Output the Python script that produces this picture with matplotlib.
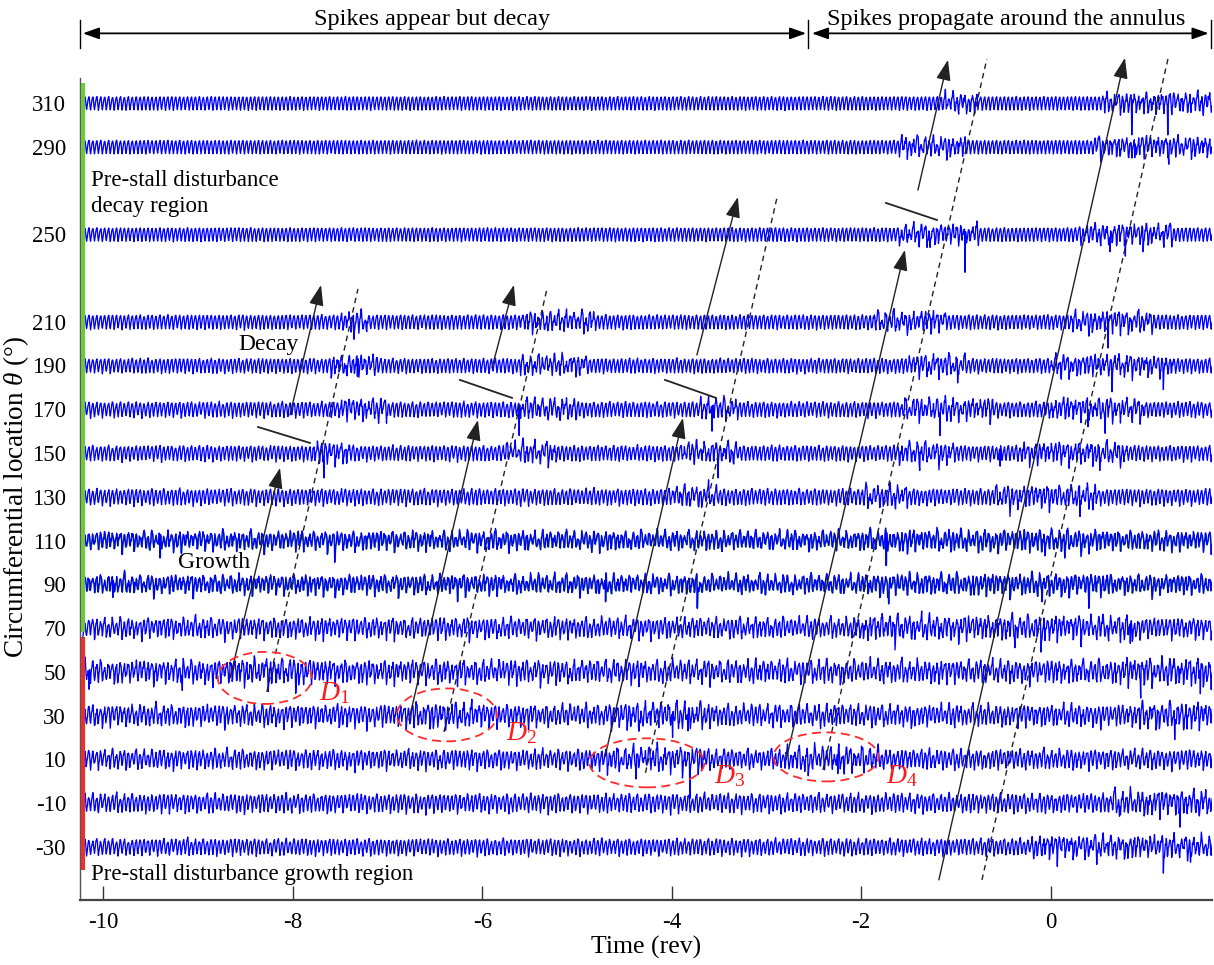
import numpy as np
import matplotlib
matplotlib.use("Agg")
import matplotlib.pyplot as plt
from matplotlib.patches import Ellipse
from matplotlib import transforms

plt.rcParams['font.family'] = ['Liberation Serif', 'DejaVu Serif']
plt.rcParams['mathtext.fontset'] = 'custom'
plt.rcParams['mathtext.rm'] = 'Liberation Serif'
plt.rcParams['mathtext.it'] = 'Liberation Serif:italic'
plt.rcParams['axes.unicode_minus'] = False

# ---- sensor traces ----
sensor_angles = [310, 290, 250, 210, 190, 170, 150, 130, 110, 90, 70, 50, 30, 10, -10, -30]
trace_amplitude = [3.2, 3.2, 3.2, 3.3, 3.3, 3.4, 3.4, 3.5, 3.3, 3.3, 3.8, 4.1, 4.0, 3.8, 3.8, 3.5]
trace_roughness = [0.08, 0.08, 0.1, 0.15, 0.2, 0.25, 0.25, 0.3, 0.85, 0.85, 0.65, 0.75, 0.65, 0.55, 0.45, 0.35]
disturbed_windows = [
    [(-1.15, -0.75), (0.55, 1.75)],
    [(-1.6, -0.9), (0.45, 1.75)],
    [(-1.6, -0.75), (0.3, 1.3)],
    [(-7.5, -7.2), (-5.6, -4.8), (-1.9, -1.1), (0.2, 1.1)],
    [(-7.6, -7.1), (-5.6, -4.9), (-1.5, -0.9), (0.0, 1.3)],
    [(-7.5, -7.0), (-5.6, -5.0), (-3.7, -3.3), (-1.6, -0.6), (0.0, 1.0)],
    [(-7.8, -7.4), (-5.8, -5.2), (-3.9, -3.3), (-1.6, -1.0), (-0.3, 0.8)],
    [(-4.0, -3.5), (-2.0, -1.5), (-0.6, 0.5)],
    [(-2.0, 0.6)],
    [(-2.0, 0.6)],
    [(-2.0, 0.9)],
    [(-8.7, -7.8), (0.8, 1.75)],
    [(-6.8, -6.0), (-4.6, -3.6), (0.9, 1.75)],
    [(-4.7, -3.6), (-2.8, -1.8)],
    [(0.6, 1.75)],
    [(-0.2, 1.75)],
]
spike_times = [
    [0.86, 1.24],
    [0.89, 1.251],
    [-1.274, -0.904, 0.63, 0.79, 0.98],
    [-7.355, 0.61, 0.82],
    [-7.32, -0.98, 0.65, 1.19],
    [-5.613, -3.575, -1.168, 0.395, 0.575],
    [-7.672, -3.511, -1.379, -0.53, 0.52],
    [-0.43, 0.31],
    [-9.40, -7.556, -1.738, -0.06, 0.15],
    [-9.9, -6.26, -4.70, -3.73, -1.71, -0.09, 0.406],
    [-1.64, -0.376, -0.10, 0.84],
    [-10.15, -9.17, -8.26, -7.94, 0.95, 1.58],
    [-4.35, -3.99, -3.83, -2.43, 1.31],
    [-4.378, -3.808, -2.561, -2.244],
    [0.73, 1.37],
    [0.07, 0.49, 1.19, 1.48],
]
spike_depths = [
    [14.6, 14.6],
    [5.0, 8.0],
    [6.0, 17.4, 8.0, 10.0, 8.0],
    [8.0, 12.0, 6.0],
    [5.0, 8.0, 12.0, 11.0],
    [12.0, 10.0, 12.0, 8.0, 11.0],
    [11.4, 11.4, 8.0, 6.0, 8.0],
    [9.0, 9.0],
    [8.0, 10.0, 11.5, 7.0, 8.0],
    [6.0, 8.0, 8.0, 11.0, 9.0, 8.0, 11.0],
    [10.0, 9.0, 11.0, 7.0],
    [8.0, 8.5, 9.0, 6.0, 12.0, 10.0],
    [6.0, 10.0, 7.0, 6.0, 11.0],
    [9.0, 18.0, 7.5, 6.5],
    [6.0, 11.0],
    [9.0, 8.0, 12.0, 7.0],
]
green_traces = [110, 90]

# blade-passage pressure shape and passage-to-passage variation
blades_per_rev = 24
blade_profile = [-1.0, -0.5, 0.0, 0.45, 0.75, 0.85, 0.35, -0.5]
passage_gain = [1.0, 0.62, 1.25, 0.85, 1.4, 0.7, 1.1, 0.55, 1.3, 0.95, 0.75, 1.35, 0.6, 1.15,
                0.9, 1.45, 0.68, 1.05, 0.8, 1.28, 0.58, 1.2, 0.88, 1.38, 0.72, 1.02, 0.66, 1.32, 0.92]
passage_offset = [0.0, 0.3, -0.2, 0.45, -0.4, 0.1, 0.35, -0.3, -0.05, 0.5, -0.45, 0.2, -0.15,
                  0.4, -0.35, 0.05, 0.25, -0.5, 0.15, -0.25, 0.42, -0.1, 0.3]
sample_kink = [0.0, 0.6, -0.4, 0.2, -0.8, 0.5, 0.1, -0.3, 0.9, -0.6, 0.3, -0.1, 0.7, -0.9, 0.4,
               -0.2, 0.8, -0.5, 0.0, 0.6, -0.7, 0.2, -0.4, 1.0, -0.3, 0.5, -0.8, 0.1, 0.3, -0.6, 0.7]
t_start, t_end = -10.22, 1.75

# ---- annotations (rev, degree) ----
growth_arrows = [((-8.663, 47.2), (-8.136, 143.2)), ((-6.774, 28.0), (-6.046, 165.1)),
                 ((-4.705, 11.1), (-3.881, 166.0)), ((-2.793, 9.7), (-1.538, 242.8)),
                 ((-1.179, -45.1), (0.786, 330.6))]
decay_arrows = [((-8.031, 167.4), (-7.703, 226.8)), ((-5.898, 188.9), (-5.666, 226.8)),
                ((-3.734, 194.8), (-3.301, 267.0)), ((-1.400, 270.2), (-1.083, 329.7))]
dashed_paths = [((-8.275, 40.8), (-7.313, 225.0)), ((-6.405, 22.5), (-5.317, 225.0)),
                ((-4.277, 3.8), (-2.889, 266.6)), ((-2.403, 5.1), (-0.672, 330.1)),
                ((-0.724, -45.1), (1.240, 330.1))]
decay_marks = [((-8.369, 161.9), (-7.820, 154.6)), ((-6.236, 183.4), (-5.687, 175.2)),
               ((-4.071, 183.4), (-3.533, 175.2)), ((-1.738, 264.3), (-1.199, 256.5))]
disturbance_centers = [(-8.296, 47.2), (-6.374, 30.3), (-4.262, 8.4), (-2.371, 11.1)]
disturbance_widths = [0.993, 1.056, 1.214, 1.109]
disturbance_heights = [23.8, 24.2, 22.4, 22.4]
disturbance_labels = [r'$D_1$', r'$D_2$', r'$D_3$', r'$D_4$']
disturbance_label_pos = [(-7.724, 37.2), (-5.749, 18.9), (-3.554, -0.8), (-1.738, -0.8)]
phase_split = -2.56
x_ticks = [-10, -8, -6, -4, -2, 0]

fig = plt.figure(figsize=(12.14, 9.65), dpi=100)
ax = fig.add_axes([80 / 1214, 65 / 965, 1132 / 1214, 822 / 965])
ax.set_xlim(-10.248, 1.705)
ax.set_ylim(-54.3, 321.4)

spp = len(blade_profile)
n_pass = int((t_end - t_start) * blades_per_rev) + 1
n = n_pass * spp
t = t_start + np.arange(n) / (blades_per_rev * spp)
k = np.arange(n) // spp
j = np.arange(n) % spp
prof = np.array(blade_profile)[j]
gain_arr = np.array(passage_gain)
off_arr = np.array(passage_offset)
kink_arr = np.array(sample_kink)

for i, ang in enumerate(sensor_angles):
    rough = np.full(n, trace_roughness[i])
    boost = np.ones(n)
    for a, b in disturbed_windows[i]:
        m = (t >= a) & (t <= b)
        rough[m] = 0.9
        boost[m] = 1.1
    g = gain_arr[(k + 7 * i) % len(gain_arr)]
    o = off_arr[(k + 5 * i) % len(off_arr)]
    kk = kink_arr[(k * spp + 3 * j + 11 * i) % len(kink_arr)]
    y = trace_amplitude[i] * boost * ((1 + rough * (g - 1)) * prof + rough * (o + 0.45 * kk))
    for ts, d in zip(spike_times[i], spike_depths[i]):
        idx = int(np.argmin(np.abs(t - ts)))
        y[idx] = -d
    if ang in green_traces:
        ax.plot(t + 0.004, ang + 0.92 * y - 0.4, color='#2f8f2f', lw=0.9, zorder=2)
    ax.plot(t, ang + y, color='#0000ff', lw=0.95, zorder=3)

# region bars along the left axis
bar_tr = transforms.blended_transform_factory(ax.transAxes, ax.transData)
ax.plot([0.0025, 0.0025], [319.0, 68.2], color='#6cc83c', lw=3, transform=bar_tr,
        solid_capstyle='butt', clip_on=False, zorder=5)
ax.plot([0.0025, 0.0025], [66.0, -40.5], color='#e8312f', lw=3, transform=bar_tr,
        solid_capstyle='butt', clip_on=False, zorder=5)

arrow_kw = dict(arrowstyle='-|>,head_length=0.9,head_width=0.32', color='#222222', lw=1.0,
                shrinkA=0, shrinkB=0, mutation_scale=14)
for (p0, p1) in growth_arrows + decay_arrows:
    ax.annotate('', xy=p1, xytext=p0, arrowprops=arrow_kw, annotation_clip=False, zorder=6)
for (p0, p1) in dashed_paths:
    ax.plot([p0[0], p1[0]], [p0[1], p1[1]], color='#222222', lw=1.0, ls=(0, (4, 3)),
            clip_on=False, zorder=6)
for (p0, p1) in decay_marks:
    ax.plot([p0[0], p1[0]], [p0[1], p1[1]], color='#222222', lw=1.3, zorder=6)
for c, w, h, lab, pos in zip(disturbance_centers, disturbance_widths, disturbance_heights,
                             disturbance_labels, disturbance_label_pos):
    ax.add_patch(Ellipse(c, w, h, fill=False, edgecolor='#ff2a2a', lw=1.3,
                         ls=(0, (5, 3)), zorder=7))
    ax.text(pos[0], pos[1], lab, color='#ff1a1a', fontsize=20, ha='left', va='baseline', zorder=8)

ax.text(-8.258, 199.4, 'Decay', fontsize=17, ha='center', va='center', zorder=8)
ax.text(-8.834, 99.8, 'Growth', fontsize=17, ha='center', va='center', zorder=8)
ax.text(-10.133, 268.5, 'Pre-stall disturbance\ndecay region', fontsize=16.5, ha='left',
        va='center', linespacing=1.3, zorder=8)
ax.text(-10.133, -42.5, 'Pre-stall disturbance growth region', fontsize=16.5, ha='left',
        va='center', zorder=8)

# phase brackets above the plot
br_y, tick_lo, tick_hi, txt_y = 341.8, 335.1, 347.9, 348.2
x_left, x_right = -10.248, 1.69
br_kw = dict(arrowstyle='<|-|>,head_length=0.7,head_width=0.25', color='black', lw=1.3,
             shrinkA=0, shrinkB=0, mutation_scale=14)
ax.annotate('', xy=(phase_split - 0.02, br_y), xytext=(x_left + 0.03, br_y), arrowprops=br_kw,
            annotation_clip=False)
ax.annotate('', xy=(x_right - 0.02, br_y), xytext=(phase_split + 0.04, br_y), arrowprops=br_kw,
            annotation_clip=False)
for xv in [x_left, phase_split, x_right]:
    ax.plot([xv, xv], [tick_lo, tick_hi], color='black', lw=1.0, clip_on=False)
ax.text(-6.53, txt_y, 'Spikes appear but decay', fontsize=17.5, ha='center', va='center',
        clip_on=False)
ax.text(-0.47, txt_y, 'Spikes propagate around the annulus', fontsize=17.5, ha='center',
        va='center', clip_on=False)

# axes styling
for s in ['top', 'right']:
    ax.spines[s].set_visible(False)
ax.spines['left'].set_color('#555555')
ax.spines['left'].set_linewidth(1.0)
ax.spines['bottom'].set_color('#444444')
ax.spines['bottom'].set_linewidth(1.6)
ax.set_xticks(x_ticks)
ax.set_xticklabels([str(v) for v in x_ticks])
ax.set_yticks(sensor_angles)
ax.set_yticklabels([str(v) for v in sensor_angles])
ax.tick_params(axis='x', direction='in', length=10, width=1.0, color='#333333',
               labelsize=16.5, pad=9)
ax.tick_params(axis='y', length=0, labelsize=16.5, pad=10)
ax.set_xlabel('Time (rev)', fontsize=18.5, labelpad=2)
fig.text(16 / 1214, 1 - 497 / 965, r'Circumferential location $\theta$ (°)', fontsize=19.5,
         rotation=90, ha='center', va='center')

fig.savefig('out.png', dpi=100)
